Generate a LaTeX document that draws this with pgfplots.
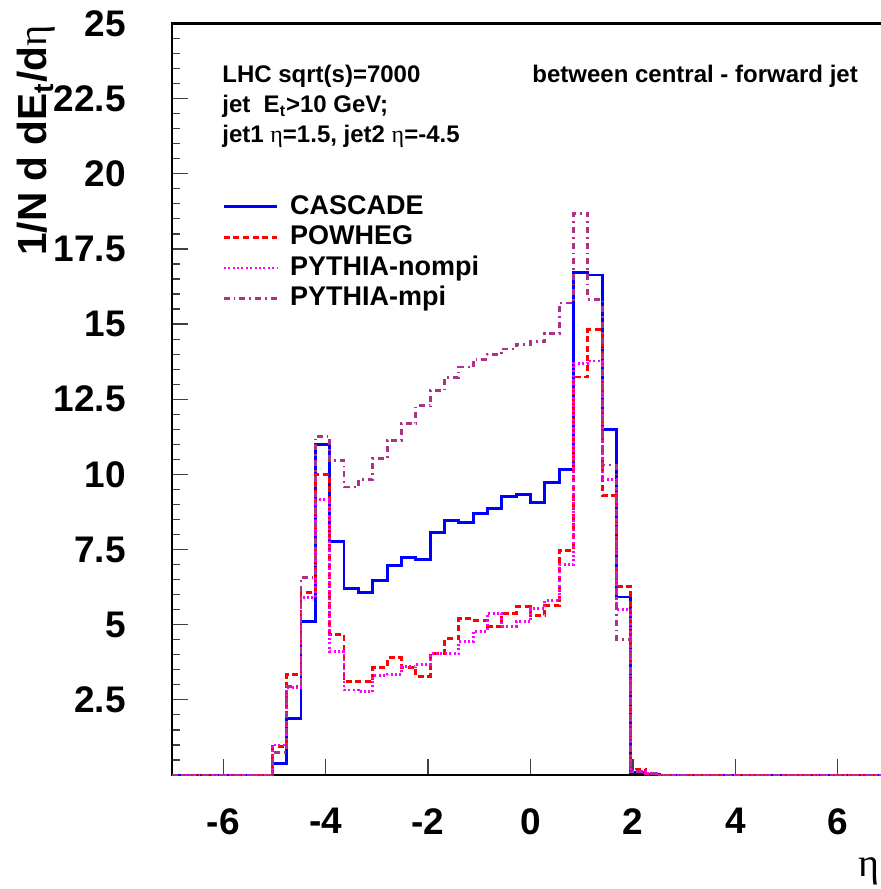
\documentclass[border=0pt]{standalone}
\usepackage{fontspec}
\setmainfont{Liberation Sans}
\newfontfamily\symfont{Liberation Serif}
\usepackage{pgfplots}
\usepackage{pgfplotstable}
\pgfplotsset{compat=1.18}
\definecolor{cascol}{RGB}{0,0,255}
\definecolor{powcol}{RGB}{255,0,0}
\definecolor{nomcol}{RGB}{255,0,255}
\definecolor{mpicol}{RGB}{176,48,136}
\newcommand\tickfont{\fontsize{18.5}{20}\selectfont\bfseries}
\newcommand\labfont{\fontsize{20.3}{22}\selectfont\bfseries}
\newcommand\txtfont{\fontsize{12}{13}\selectfont\bfseries}
\newcommand\legfont{\fontsize{13.5}{14}\selectfont\bfseries}
\newcommand\etat{{\symfont\mdseries η}}
\pgfplotstableread{
x cas pow nom mpi
-7.00 0 0 0 0
-5.04 0.37 0.95 1.00 0.75
-4.76 1.87 3.35 2.90 2.95
-4.48 5.10 6.08 5.90 6.58
-4.20 11.00 10.00 9.17 11.27
-3.92 7.77 4.67 4.10 10.47
-3.64 6.20 3.10 2.83 9.58
-3.36 6.07 3.10 2.77 9.83
-3.08 6.47 3.57 3.30 10.53
-2.80 6.97 3.90 3.35 11.12
-2.52 7.23 3.57 3.60 11.68
-2.24 7.17 3.27 3.67 12.28
-1.96 8.07 4.03 4.03 12.78
-1.68 8.47 4.53 4.03 13.22
-1.40 8.40 5.20 4.43 13.57
-1.12 8.70 5.15 4.78 13.83
-0.84 8.87 4.95 5.37 13.99
-0.56 9.27 5.37 4.95 14.17
-0.28 9.33 5.60 5.10 14.33
0.00 9.07 5.30 5.53 14.42
0.28 9.73 5.63 5.80 14.70
0.56 10.17 7.48 7.00 15.70
0.84 16.72 13.24 13.70 18.67
1.12 16.63 14.81 13.77 15.83
1.40 11.50 9.30 9.83 10.31
1.68 5.92 6.28 5.50 4.50
1.96 0.08 0.20 0.12 0.12
2.24 0.02 0.05 0.05 0.05
2.52 0 0 0 0
7.00 0 0 0 0
}\histdata
\begin{document}
\begin{tikzpicture}
\useasboundingbox (0,0) rectangle (440pt,444.5pt);
\begin{axis}[
  at={(86pt,57pt)}, anchor=south west,
  width=358.5pt, height=375.75pt, scale only axis,
  xmin=-7, xmax=7, ymin=0, ymax=25,
  clip=false,
  axis line style={line width=1.1pt},
  xtick={-6,-4,-2,0,2,4,6}, xticklabels={-6,-4,-2,0,2,4,6},
  ytick={2.5,5,7.5,10,12.5,15,17.5,20,22.5,25},
  yticklabels={2.5,5,7.5,10,12.5,15,17.5,20,22.5,25},
  minor ytick={0,0.5,...,25},
  xtick pos=left, ytick pos=left,
  tick align=inside,
  major tick length=8pt, minor tick length=4pt,
  tick style={line width=0.6pt, color=black!75},
  xticklabel style={font=\tickfont, inner sep=0pt, yshift=-16.5pt},
  yticklabel style={font=\tickfont, inner sep=0pt, xshift=-23pt},
  legend style={draw=none, fill=none, at={(axis description cs:0.0697,0.7731)}, anchor=north west,
    inner sep=0pt, row sep=3pt, column sep=6pt, font=\legfont,
    nodes={inner sep=0pt, text height=9.8pt, text depth=2.5pt}},
  legend cell align=left,
  legend image code/.code={\draw[#1] (0pt,0pt) -- (26.5pt,0pt);},
]
\addplot[const plot mark left, cascol, line width=1.4pt] table[x=x,y=cas] {\histdata};
\addlegendentry{CASCADE}
\addplot[const plot mark left, powcol, line width=1.4pt, dash pattern=on 3pt off 1.8pt] table[x=x,y=pow] {\histdata};
\addlegendentry{POWHEG}
\addplot[const plot mark left, nomcol, line width=1.4pt, dash pattern=on 1pt off 1.2pt] table[x=x,y=nom] {\histdata};
\addlegendentry{PYTHIA-nompi}
\addplot[const plot mark left, mpicol, line width=1.4pt, dash pattern=on 3pt off 2pt on 0.8pt off 2pt] table[x=x,y=mpi] {\histdata};
\addlegendentry{PYTHIA-mpi}
\end{axis}
\node[rotate=90, anchor=base east, font=\labfont, inner sep=0pt] at (23.5pt,432pt) {1/N d dE\textsubscript{t}/d\etat};
\node[anchor=base west, font=\txtfont, inner sep=0pt] at (111pt,403pt) {LHC sqrt(s)=7000};
\node[anchor=base west, font=\txtfont, inner sep=0pt] at (111pt,388pt) {jet\ \ E\textsubscript{t}>10 GeV;};
\node[anchor=base west, font=\txtfont, inner sep=0pt] at (111pt,373pt) {jet1 \etat=1.5, jet2 \etat=-4.5};
\node[anchor=base west, font=\txtfont, inner sep=0pt] at (266pt,403pt) {between central - forward jet};
\node[anchor=base west, inner sep=0pt, font=\fontsize{20}{22}\selectfont] at (429pt,6pt) {\etat};
\end{tikzpicture}
\end{document}
